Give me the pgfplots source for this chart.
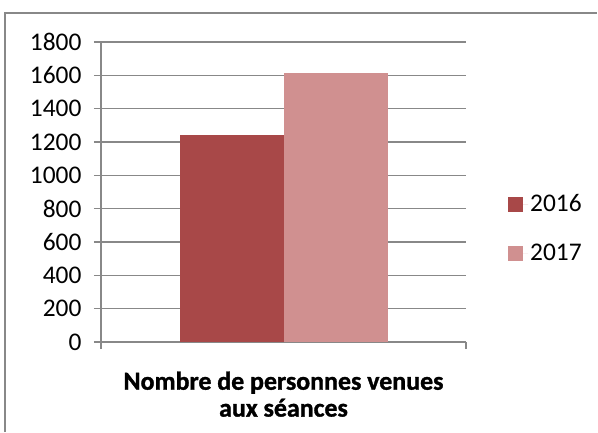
\documentclass[border=0pt]{standalone}
\usepackage{pgfplots}
\pgfplotsset{compat=1.18}
\usepackage{fontspec}
\setmainfont{Carlito}
\newfontfamily\lblfont[FakeBold=1.2]{Carlito Bold}
\definecolor{bar16}{HTML}{A84848}
\definecolor{bar17}{HTML}{D09090}
\definecolor{gridc}{HTML}{888888}
\begin{document}
\begin{tikzpicture}[x=1bp,y=1bp]
\path[use as bounding box] (0,0) rectangle (598,432);
\draw[gridc, line width=1.2bp] (5,0) -- (5,419) -- (597,419);
\begin{axis}[
    at={(101bp,90bp)}, anchor=south west,
    scale only axis, width=365bp, height=300bp,
    ybar, bar width=104bp,
    ymin=0, ymax=1800, ytick={0,200,...,1800},
    xmin=-1, xmax=1, xtick={-1,1}, xticklabels={},
    ymajorgrids, grid style={gridc, line width=1.2bp},
    axis line style={gridc, line width=1.2bp},
    every tick/.style={gridc, line width=1.2bp},
    major tick length=7bp,
    tick align=outside,
    axis x line*=bottom, axis y line*=left,
    x axis line style={-}, y axis line style={-},
    tick label style={font=\fontsize{25.5}{27}\selectfont},
    /pgf/number format/assume math mode=true,
    /pgf/number format/1000 sep={},
    yticklabel style={xshift=-9bp},
    xlabel={\lblfont Nombre de personnes venues\\\lblfont aux séances},
    xlabel style={font=\fontsize{26}{27}\selectfont, align=center, at={(axis description cs:0.5,0)}, anchor=north, yshift=-26bp},
    legend style={draw=none, inner sep=0pt, at={(1.115,0.378)}, anchor=west, font=\fontsize{25.5}{27}\selectfont, row sep=27bp},
    legend image code/.code={\fill[#1] (0bp,-7.5bp) rectangle (15bp,7.5bp); \path (15bp,0) -- (20bp,0);},
    legend cell align=left,
]
\addplot[fill=bar16, draw=none, bar shift=-52bp] coordinates {(0,1240)};
\addplot[fill=bar17, draw=none, bar shift=52bp] coordinates {(0,1615)};
\legend{2016,2017}
\end{axis}
\end{tikzpicture}
\end{document}
